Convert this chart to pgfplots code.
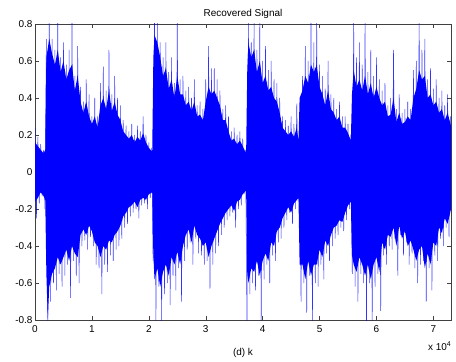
\documentclass[border=0pt]{standalone}
\usepackage{pgfplots}
\pgfplotsset{compat=1.18}
\usepgfplotslibrary{fillbetween}
\usepackage{fontspec}
\setmainfont{Liberation Sans}
\definecolor{sig}{RGB}{0,0,255}
\begin{document}
\begin{tikzpicture}
\begin{axis}[name=ax, at={(0,0)}, anchor=south west,
  width=416bp, height=296bp, scale only axis,
  xmin=0, xmax=7.31, ymin=-0.8, ymax=0.8,
  xtick={0,1,2,3,4,5,6,7},
  ytick={-0.8,-0.6,-0.4,-0.2,0,0.2,0.4,0.6,0.8},
  /pgf/number format/assume math mode=true,
  yticklabel style={/pgf/number format/fixed,/pgf/number format/precision=1, xshift=1bp},
  xticklabel style={yshift=-2bp},
  tick align=inside, major tick length=4bp,
  tick style={black!75, line width=0.4pt},
  axis line style={black!75, line width=0.5pt},
  ticklabel style={font=\fontsize{10}{12}\selectfont},
  title={Recovered Signal}, title style={font=\fontsize{10}{12}\selectfont, yshift=-4bp},
  xlabel={(d) k}, xlabel style={font=\fontsize{10}{12}\selectfont, yshift=-9bp},
  clip=true]
\addplot[name path=U, draw=none] coordinates {
(0.00,0.16)(0.05,0.14)(0.10,0.12)(0.15,0.10)(0.18,0.12)(0.20,0.62)(0.25,0.72)(0.30,0.64)(0.35,0.58)(0.40,0.66)(0.45,0.54)(0.50,0.60)(0.55,0.50)(0.60,0.55)(0.65,0.58)(0.70,0.44)(0.75,0.52)(0.80,0.38)(0.85,0.32)(0.90,0.38)(0.95,0.30)(1.00,0.26)(1.05,0.30)(1.10,0.24)(1.15,0.36)(1.20,0.40)(1.25,0.34)(1.30,0.44)(1.35,0.33)(1.40,0.38)(1.45,0.31)(1.50,0.28)(1.55,0.22)(1.60,0.20)(1.65,0.18)(1.70,0.20)(1.75,0.16)(1.80,0.19)(1.85,0.17)(1.90,0.21)(1.95,0.16)(2.00,0.13)(2.06,0.11)(2.08,0.62)(2.10,0.74)(2.15,0.70)(2.20,0.62)(2.25,0.52)(2.30,0.56)(2.35,0.45)(2.40,0.50)(2.45,0.40)(2.50,0.52)(2.55,0.42)(2.60,0.42)(2.65,0.36)(2.70,0.38)(2.75,0.33)(2.80,0.38)(2.85,0.30)(2.90,0.31)(2.95,0.28)(3.00,0.38)(3.05,0.46)(3.10,0.42)(3.15,0.44)(3.20,0.40)(3.25,0.36)(3.30,0.28)(3.35,0.28)(3.40,0.22)(3.45,0.17)(3.50,0.18)(3.55,0.15)(3.60,0.17)(3.65,0.14)(3.71,0.10)(3.73,0.55)(3.75,0.70)(3.80,0.62)(3.85,0.66)(3.90,0.54)(3.95,0.60)(4.00,0.48)(4.05,0.52)(4.10,0.44)(4.15,0.46)(4.20,0.40)(4.25,0.38)(4.30,0.32)(4.35,0.24)(4.40,0.22)(4.45,0.20)(4.50,0.22)(4.55,0.19)(4.60,0.24)(4.63,0.17)(4.65,0.40)(4.70,0.44)(4.75,0.52)(4.80,0.48)(4.85,0.58)(4.90,0.54)(4.95,0.58)(5.00,0.46)(5.05,0.42)(5.10,0.36)(5.15,0.44)(5.20,0.34)(5.25,0.32)(5.30,0.28)(5.35,0.30)(5.40,0.24)(5.45,0.24)(5.50,0.21)(5.55,0.17)(5.57,0.42)(5.60,0.55)(5.65,0.46)(5.70,0.50)(5.75,0.44)(5.80,0.52)(5.85,0.42)(5.90,0.48)(5.95,0.40)(6.00,0.46)(6.05,0.40)(6.10,0.36)(6.15,0.38)(6.20,0.30)(6.25,0.31)(6.30,0.40)(6.35,0.27)(6.40,0.32)(6.45,0.26)(6.50,0.27)(6.55,0.30)(6.60,0.28)(6.65,0.40)(6.70,0.45)(6.75,0.55)(6.80,0.50)(6.85,0.52)(6.90,0.40)(6.95,0.42)(7.00,0.36)(7.05,0.38)(7.10,0.32)(7.15,0.34)(7.20,0.28)(7.25,0.32)(7.31,0.25)
};
\addplot[name path=L, draw=none] coordinates {
(0.00,-0.16)(0.05,-0.14)(0.10,-0.11)(0.15,-0.13)(0.18,-0.15)(0.20,-0.55)(0.225,-0.80)(0.25,-0.62)(0.30,-0.55)(0.35,-0.52)(0.40,-0.46)(0.45,-0.50)(0.50,-0.46)(0.55,-0.42)(0.60,-0.48)(0.65,-0.40)(0.70,-0.44)(0.75,-0.46)(0.80,-0.34)(0.85,-0.31)(0.90,-0.34)(0.95,-0.29)(1.00,-0.32)(1.05,-0.38)(1.10,-0.40)(1.15,-0.46)(1.20,-0.40)(1.25,-0.42)(1.30,-0.37)(1.35,-0.38)(1.40,-0.34)(1.45,-0.32)(1.50,-0.29)(1.55,-0.24)(1.60,-0.22)(1.65,-0.19)(1.70,-0.18)(1.75,-0.16)(1.80,-0.19)(1.85,-0.15)(1.90,-0.14)(1.95,-0.15)(2.00,-0.12)(2.06,-0.11)(2.08,-0.45)(2.10,-0.58)(2.15,-0.52)(2.20,-0.62)(2.25,-0.54)(2.30,-0.50)(2.35,-0.56)(2.40,-0.46)(2.45,-0.50)(2.50,-0.43)(2.55,-0.50)(2.60,-0.40)(2.65,-0.34)(2.70,-0.31)(2.75,-0.38)(2.80,-0.29)(2.85,-0.34)(2.90,-0.36)(2.95,-0.40)(3.00,-0.38)(3.05,-0.46)(3.10,-0.40)(3.15,-0.36)(3.20,-0.32)(3.25,-0.28)(3.30,-0.25)(3.35,-0.22)(3.40,-0.20)(3.45,-0.18)(3.50,-0.21)(3.55,-0.16)(3.60,-0.15)(3.65,-0.12)(3.71,-0.10)(3.73,-0.55)(3.75,-0.60)(3.80,-0.52)(3.85,-0.54)(3.90,-0.48)(3.95,-0.56)(4.00,-0.48)(4.05,-0.44)(4.10,-0.48)(4.15,-0.38)(4.20,-0.40)(4.25,-0.32)(4.30,-0.30)(4.35,-0.25)(4.40,-0.22)(4.45,-0.19)(4.50,-0.22)(4.55,-0.17)(4.63,-0.14)(4.65,-0.50)(4.70,-0.50)(4.75,-0.58)(4.80,-0.48)(4.85,-0.56)(4.90,-0.50)(4.95,-0.50)(5.00,-0.42)(5.05,-0.46)(5.10,-0.37)(5.15,-0.40)(5.20,-0.34)(5.25,-0.30)(5.30,-0.29)(5.35,-0.26)(5.40,-0.27)(5.45,-0.22)(5.50,-0.18)(5.55,-0.16)(5.57,-0.45)(5.60,-0.50)(5.65,-0.54)(5.70,-0.46)(5.75,-0.50)(5.80,-0.56)(5.85,-0.50)(5.90,-0.58)(5.95,-0.50)(6.00,-0.46)(6.05,-0.54)(6.10,-0.38)(6.15,-0.42)(6.20,-0.34)(6.25,-0.35)(6.30,-0.30)(6.35,-0.40)(6.40,-0.29)(6.45,-0.36)(6.50,-0.32)(6.55,-0.40)(6.60,-0.37)(6.65,-0.42)(6.70,-0.48)(6.75,-0.42)(6.80,-0.40)(6.85,-0.52)(6.90,-0.44)(6.95,-0.50)(7.00,-0.38)(7.05,-0.40)(7.10,-0.30)(7.15,-0.33)(7.20,-0.25)(7.25,-0.28)(7.31,-0.20)
};
\addplot[sig, draw=none] fill between[of=U and L];
\addplot[sig, line width=0.5pt, opacity=0.8] coordinates {
(0.00,0.24)(0.025,-0.25)(0.05,0.19)(0.075,-0.17)(0.10,0.15)(0.125,-0.13)(0.15,0.12)(0.175,-0.20)
(0.20,0.72)(0.225,-0.82)(0.25,0.82)(0.275,-0.70)(0.30,0.72)(0.325,-0.60)(0.35,0.66)(0.375,-0.64)
(0.40,0.82)(0.425,-0.55)(0.45,0.62)(0.475,-0.62)(0.50,0.70)(0.525,-0.56)(0.55,0.58)(0.575,-0.50)
(0.60,0.66)(0.625,-0.68)(0.65,0.82)(0.675,-0.48)(0.70,0.52)(0.725,-0.56)(0.75,0.68)(0.775,-0.60)
(0.80,0.46)(0.825,-0.40)(0.85,0.38)(0.875,-0.37)(0.90,0.50)(0.925,-0.42)(0.95,0.42)(0.975,-0.35)
(1.00,0.30)(1.025,-0.40)(1.05,0.40)(1.075,-0.50)(1.10,0.30)(1.125,-0.52)(1.15,0.48)(1.175,-0.66)
(1.20,0.57)(1.225,-0.50)(1.25,0.44)(1.275,-0.54)(1.30,0.66)(1.325,-0.45)(1.35,0.42)(1.375,-0.48)
(1.40,0.52)(1.425,-0.42)(1.45,0.40)(1.475,-0.40)(1.50,0.36)(1.525,-0.36)(1.55,0.28)(1.575,-0.30)
(1.60,0.25)(1.625,-0.28)(1.65,0.22)(1.675,-0.24)(1.70,0.26)(1.725,-0.22)(1.75,0.20)(1.775,-0.20)
(1.80,0.25)(1.825,-0.25)(1.85,0.22)(1.875,-0.18)(1.90,0.30)(1.925,-0.17)(1.95,0.20)(1.975,-0.20)
(2.00,0.16)(2.025,-0.14)(2.05,0.13)(2.075,-0.48)(2.10,0.82)(2.125,-0.82)(2.15,0.82)(2.175,-0.62)
(2.20,0.70)(2.225,-0.82)(2.25,0.62)(2.275,-0.66)(2.30,0.70)(2.325,-0.60)(2.35,0.54)(2.375,-0.72)
(2.40,0.62)(2.425,-0.56)(2.45,0.48)(2.475,-0.64)(2.50,0.82)(2.525,-0.52)(2.55,0.50)(2.575,-0.70)
(2.60,0.52)(2.625,-0.48)(2.65,0.44)(2.675,-0.42)(2.70,0.46)(2.725,-0.38)(2.75,0.40)(2.775,-0.50)
(2.80,0.50)(2.825,-0.36)(2.85,0.36)(2.875,-0.44)(2.90,0.38)(2.925,-0.45)(2.95,0.34)(2.975,-0.50)
(3.00,0.50)(3.025,-0.48)(3.05,0.68)(3.075,-0.63)(3.10,0.56)(3.125,-0.50)(3.15,0.56)(3.175,-0.44)
(3.20,0.50)(3.225,-0.40)(3.25,0.44)(3.275,-0.34)(3.30,0.34)(3.325,-0.30)(3.35,0.36)(3.375,-0.26)
(3.40,0.30)(3.425,-0.24)(3.45,0.22)(3.475,-0.22)(3.50,0.24)(3.525,-0.30)(3.55,0.20)(3.575,-0.20)
(3.60,0.22)(3.625,-0.18)(3.65,0.18)(3.675,-0.12)(3.70,0.12)(3.725,-0.82)(3.75,0.82)(3.775,-0.66)
(3.80,0.70)(3.825,-0.60)(3.85,0.82)(3.875,-0.64)(3.90,0.66)(3.925,-0.56)(3.95,0.82)(3.975,-0.82)
(4.00,0.60)(4.025,-0.58)(4.05,0.68)(4.075,-0.50)(4.10,0.55)(4.125,-0.60)(4.15,0.60)(4.175,-0.45)
(4.20,0.50)(4.225,-0.48)(4.25,0.48)(4.275,-0.38)(4.30,0.40)(4.325,-0.36)(4.35,0.30)(4.375,-0.30)
(4.40,0.28)(4.425,-0.26)(4.45,0.25)(4.475,-0.22)(4.50,0.30)(4.525,-0.28)(4.55,0.26)(4.575,-0.20)
(4.60,0.37)(4.625,-0.16)(4.65,0.22)(4.675,-0.70)(4.70,0.52)(4.725,-0.60)(4.75,0.68)(4.775,-0.76)
(4.80,0.60)(4.825,-0.56)(4.85,0.82)(4.875,-0.82)(4.90,0.70)(4.925,-0.60)(4.95,0.82)(4.975,-0.62)
(5.00,0.58)(5.025,-0.50)(5.05,0.52)(5.075,-0.58)(5.10,0.45)(5.125,-0.44)(5.15,0.60)(5.175,-0.48)
(5.20,0.42)(5.225,-0.40)(5.25,0.40)(5.275,-0.36)(5.30,0.34)(5.325,-0.34)(5.35,0.38)(5.375,-0.30)
(5.40,0.30)(5.425,-0.32)(5.45,0.30)(5.475,-0.26)(5.50,0.26)(5.525,-0.20)(5.55,0.20)(5.575,-0.55)
(5.60,0.82)(5.625,-0.62)(5.65,0.62)(5.675,-0.70)(5.70,0.70)(5.725,-0.55)(5.75,0.58)(5.775,-0.60)
(5.80,0.82)(5.825,-0.82)(5.85,0.54)(5.875,-0.60)(5.90,0.66)(5.925,-0.82)(5.95,0.52)(5.975,-0.62)
(6.00,0.62)(6.025,-0.55)(6.05,0.50)(6.075,-0.75)(6.10,0.44)(6.125,-0.45)(6.15,0.48)(6.175,-0.50)
(6.20,0.36)(6.225,-0.40)(6.25,0.40)(6.275,-0.42)(6.30,0.66)(6.325,-0.36)(6.35,0.34)(6.375,-0.56)
(6.40,0.42)(6.425,-0.34)(6.45,0.32)(6.475,-0.45)(6.50,0.34)(6.525,-0.38)(6.55,0.38)(6.575,-0.50)
(6.60,0.34)(6.625,-0.44)(6.65,0.55)(6.675,-0.52)(6.70,0.60)(6.725,-0.60)(6.75,0.82)(6.775,-0.50)
(6.80,0.66)(6.825,-0.48)(6.85,0.72)(6.875,-0.70)(6.90,0.50)(6.925,-0.52)(6.95,0.56)(6.975,-0.64)
(7.00,0.45)(7.025,-0.45)(7.05,0.50)(7.075,-0.48)(7.10,0.40)(7.125,-0.36)(7.15,0.44)(7.175,-0.40)
(7.20,0.36)(7.225,-0.30)(7.25,0.42)(7.275,-0.35)(7.30,0.30)
};
\end{axis}
\node[anchor=north east, font=\fontsize{10}{12}\selectfont, inner sep=0pt] at ([shift={(0bp,-21bp)}]ax.south east) {x 10\raisebox{0.8ex}{\fontsize{7}{8}\selectfont 4}};
\path ([shift={(-35bp,-35bp)}]ax.south west) rectangle ([shift={(5bp,24bp)}]ax.north east);
\end{tikzpicture}
\end{document}
